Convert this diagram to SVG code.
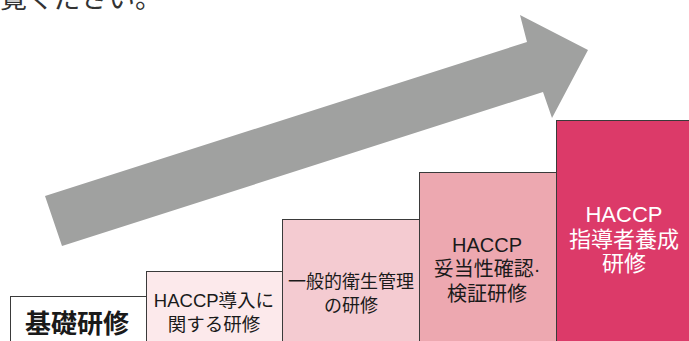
<svg xmlns="http://www.w3.org/2000/svg" width="689" height="341" viewBox="0 0 689 341">
<style>
.box{stroke:#3a3a3a;stroke-width:1}
.t{font-family:"Liberation Sans","Noto Sans CJK JP",sans-serif;text-anchor:middle;fill:#1a1a1a}
.w{fill:#ffffff}
</style>
<rect width="689" height="341" fill="#ffffff"/>
<text x="0" y="8" style="font-family:'Noto Sans CJK JP',sans-serif;font-size:27px;fill:#333">覧ください。</text>
<g id="arrow">
<polygon points="45,196 527,42 520,15 588,50 552,118 543,92 62,246" fill="#a0a1a0"/>
</g>
<g id="node1">
<rect class="box" x="10.5" y="296.5" width="136" height="50" fill="#ffffff"/>
<text class="t" x="77" y="333" style="font-size:26px;font-weight:bold">基礎研修</text>
</g>
<g id="node2">
<rect class="box" x="146.5" y="271.5" width="136" height="75" fill="#fce9eb"/>
<text class="t" x="214" y="307" style="font-size:18.5px">HACCP導入に</text>
<text class="t" x="214" y="331" style="font-size:18.5px">関する研修</text>
</g>
<g id="node3">
<rect class="box" x="282.5" y="219.5" width="137" height="127" fill="#f4cbd1"/>
<text class="t" x="351" y="288" style="font-size:18px">一般的衛生管理</text>
<text class="t" x="351" y="312" style="font-size:18px">の研修</text>
</g>
<g id="node4">
<rect class="box" x="419.5" y="172.5" width="137" height="174" fill="#eda8b0"/>
<text class="t" x="487" y="252" style="font-size:20px">HACCP</text>
<text class="t" x="487" y="276" style="font-size:20px">妥当性確認·</text>
<text class="t" x="487" y="301" style="font-size:20px">検証研修</text>
</g>
<g id="node5">
<rect class="box" x="556.5" y="120.5" width="140" height="226" fill="#dc3a69"/>
<text class="t w" x="624" y="222" style="font-size:22px">HACCP</text>
<text class="t w" x="624" y="247" style="font-size:22px">指導者養成</text>
<text class="t w" x="624" y="271" style="font-size:22px">研修</text>
</g>
<g id="connectors"></g>
</svg>
